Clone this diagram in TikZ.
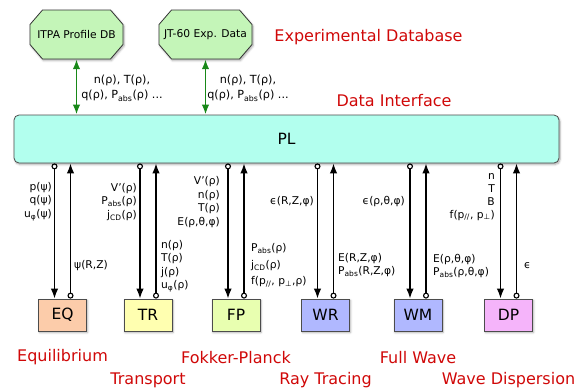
\documentclass[tikz,border=0pt]{standalone}
\usepackage{fontspec}
\setmainfont{DejaVu Sans}
\usetikzlibrary{arrows.meta,shadows,shadows.blur,calc}
\definecolor{redlab}{RGB}{208,8,8}
\definecolor{octfill}{RGB}{196,245,184}
\definecolor{plfill}{RGB}{178,255,238}
\definecolor{eqfill}{RGB}{252,204,170}
\definecolor{trfill}{RGB}{255,255,176}
\definecolor{fpfill}{RGB}{232,255,176}
\definecolor{wfill}{RGB}{176,184,255}
\definecolor{dpfill}{RGB}{245,180,250}
\definecolor{grn}{RGB}{24,136,24}
\begin{document}
\begin{tikzpicture}[x=1pt,y=-1pt,
  shd/.style={blur shadow={shadow xshift=1pt, shadow yshift=-1.5pt, shadow blur radius=2pt, shadow opacity=35}},
  modbox/.style={draw=black!70, line width=0.8pt, minimum width=48pt, minimum height=32pt, inner sep=0pt, font=\fontsize{15.5}{18}\selectfont, shd},
  octline/.style={draw=black!80, line width=0.8pt, fill=octfill, shd},
  octtext/.style={minimum width=93pt, minimum height=49pt, inner sep=0pt, font=\fontsize{10.7}{13}\selectfont},
  lab/.style={font=\fontsize{10.7}{13.5}\selectfont, inner sep=0pt},
  toplab/.style={font=\fontsize{11.2}{15.5}\selectfont, inner sep=0pt, align=center},
  redl/.style={text=redlab, font=\fontsize{16}{19}\selectfont, inner sep=0pt},
  link/.style={line width=1.5pt, {Circle[open,length=6pt,width=6pt,line width=1.1pt]}-{Latex[length=10pt,width=7.5pt]}},
  grarrow/.style={draw=grn, line width=1.8pt, {Latex[length=10pt,width=7.5pt]}-{Latex[length=10pt,width=7.5pt]}}
]
\useasboundingbox (0,0) rectangle (583,389);

% octagons
\coordinate (o1) at (76.5,34.5);
\coordinate (o2) at (205.5,34.5);
\foreach \c in {o1,o2}{
  \begin{scope}[shift={(\c)}]
    \draw[octline] (-34,-24.5) -- (34,-24.5) -- (46.5,-10) -- (46.5,10) -- (34,24.5) -- (-34,24.5) -- (-46.5,10) -- (-46.5,-10) -- cycle;
  \end{scope}
}
\node[octtext] (itpa) at (o1) {ITPA Profile DB};
\node[octtext] (jt) at (o2) {JT-60 Exp. Data};

% PL
\node[draw=black!70, line width=0.8pt, rounded corners=5pt, fill=plfill, minimum width=545pt, minimum height=48pt, inner sep=0pt, font=\fontsize{15.5}{18}\selectfont, shd] (PL) at (286.5,139) {PL};

\draw[grarrow] (itpa.south) -- (PL.north -| itpa.south);
\draw[grarrow] (jt.south) -- (PL.north -| jt.south);

\node[toplab] (l1) at (122,88) {n(ρ), T(ρ),\\q(ρ), P\textsubscript{abs}(ρ) ...};
\node[toplab] (l2) at (248,88) {n(ρ), T(ρ),\\q(ρ), P\textsubscript{abs}(ρ) ...};

\node[redl] (expdb) at (368.5,37) {Experimental Database};
\node[redl] (dataif) at (394,101) {Data Interface};

% modules
\node[modbox, fill=eqfill] (eq) at (62.5,315) {EQ};
\node[modbox, fill=trfill] (tr) at (148,315) {TR};
\node[modbox, fill=fpfill] (fp) at (236,315) {FP};
\node[modbox, fill=wfill] (wr) at (325.5,315) {WR};
\node[modbox, fill=wfill] (wm) at (418,315) {WM};
\node[modbox, fill=dpfill] (dp) at (508.5,315) {DP};

\foreach \m in {eq,tr,fp,wr,wm,dp}{
  \coordinate (\m d) at ($(\m.north)+(-8,0)$);
  \coordinate (\m u) at ($(\m.north)+(8,0)$);
  \draw[link] (PL.south -| \m d) -- (\m d);
  \draw[link] (\m u) -- (PL.south -| \m u);
}

% labels
\node[lab, anchor=east, align=right] (eqdl) at (52,201.5) {p(ψ)\\q(ψ)\\u\textsubscript{φ}(ψ)};
\node[lab, anchor=west] (equl) at (74,266) {ψ(R,Z)};
\node[lab, anchor=east, align=right] (trdl) at (137,202) {V'(ρ)\\P\textsubscript{abs}(ρ)\\j\textsubscript{CD}(ρ)};
\node[lab, anchor=west, align=left] (trul) at (161,266) {n(ρ)\\T(ρ)\\j(ρ)\\u\textsubscript{φ}(ρ)};
\node[lab, anchor=east, align=right] (fpdl) at (220,202) {V'(ρ)\\n(ρ)\\T(ρ)\\E(ρ,θ,φ)};
\node[lab, anchor=west, align=left, font=\fontsize{10.7}{16.5}\selectfont] (fpul) at (251,265.5) {P\textsubscript{abs}(ρ)\\j\textsubscript{CD}(ρ)\\f(p\textsubscript{//}, p\textsubscript{⊥},ρ)};
\node[lab, anchor=east] (wrdl) at (314,202) {ϵ(R,Z,φ)};
\node[lab, anchor=west, align=left] (wrul) at (338,265) {E(R,Z,φ)\\P\textsubscript{abs}(R,Z,φ)};
\node[lab, anchor=east] (wmdl) at (405,202) {ϵ(ρ,θ,φ)};
\node[lab, anchor=west, align=left] (wmul) at (433,266) {E(ρ,θ,φ)\\P\textsubscript{abs}(ρ,θ,φ)};
\node[lab, anchor=east, align=right, font=\fontsize{10.7}{12.8}\selectfont] (dpdl) at (495,197) {n\\T\\B\\f(p\textsubscript{//}, p\textsubscript{⊥})};
\node[lab, anchor=west] (dpul) at (524,266) {ϵ};

% red module names
\node[redl] (neq) at ($(eq.south)+(0,26)$) {Equilibrium};
\node[redl] (ntr) at ($(tr.south)+(0,49)$) {Transport};
\node[redl] (nfp) at ($(fp.south)+(0,26)$) {Fokker-Planck};
\node[redl] (nwr) at ($(wr.south)+(0,49)$) {Ray Tracing};
\node[redl] (nwm) at ($(wm.south)+(0,26)$) {Full Wave};
\node[redl] (ndp) at ($(dp.south)+(0,49)$) {Wave Dispersion};
\end{tikzpicture}
\end{document}
